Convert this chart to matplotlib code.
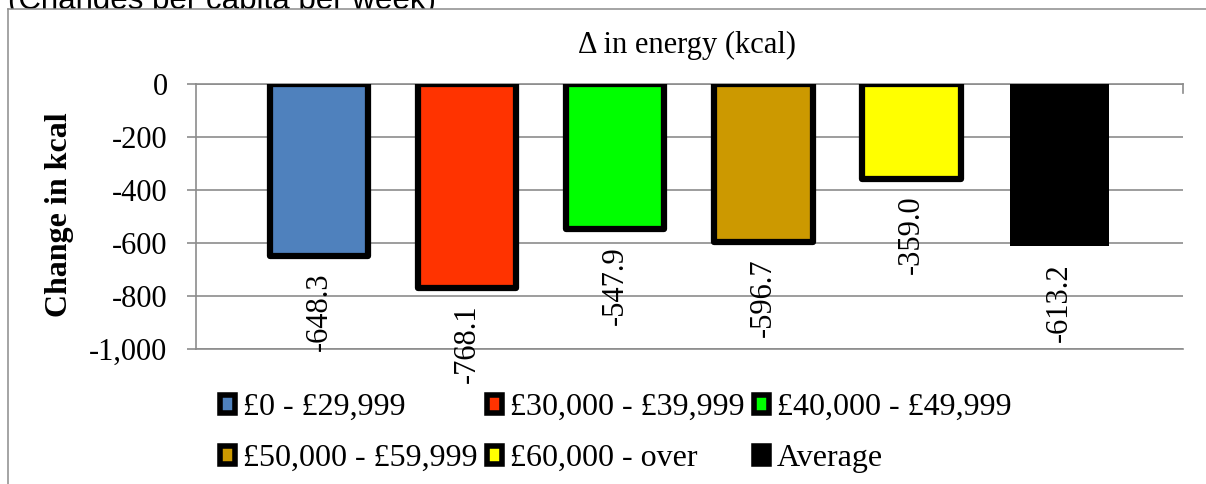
import matplotlib
matplotlib.use('Agg')
import matplotlib.pyplot as plt
from matplotlib.patches import Patch, Rectangle
from matplotlib.lines import Line2D

# data
groups = ['£0 - £29,999', '£30,000 - £39,999', '£40,000 - £49,999',
          '£50,000 - £59,999', '£60,000 - over', 'Average']
delta_kcal = [-648.3, -768.1, -547.9, -596.7, -359.0, -613.2]
colors = ['#4F81BD', '#FF3300', '#00FF00', '#CC9900', '#FFFF00', '#000000']
yticks = [0, -200, -400, -600, -800, -1000]

W, H, DPI = 1206, 484, 100
GRID = '#8c8c8c'

plt.rcParams['font.family'] = ['Liberation Serif', 'DejaVu Serif']

fig = plt.figure(figsize=(W / DPI, H / DPI), dpi=DPI)

# caption cut off at the top, partly hidden by the chart area
fig.text(8 / W, 1 - 8.5 / H, '(Changes per capita per week)',
         family=['Liberation Sans', 'DejaVu Sans'], fontsize=22.5,
         va='baseline', ha='left', zorder=-2)
fig.add_artist(Rectangle((8 / W, 0), 1, 1 - 9 / H, transform=fig.transFigure,
                         facecolor='white', edgecolor='none', zorder=-1))
fig.add_artist(Line2D([8 / W, 8 / W], [0, 1 - 9 / H], transform=fig.transFigure,
                      color=GRID, lw=1.1))
fig.add_artist(Line2D([8 / W, 1], [1 - 9 / H, 1 - 9 / H], transform=fig.transFigure,
                      color=GRID, lw=1.1))

ax = fig.add_axes([196 / W, 1 - 349 / H, 987 / W, 265 / H])
ax.set_facecolor('none')
x = list(range(len(groups)))
lws = [4.5] * 5 + [0]
bars = ax.bar(x, delta_kcal, width=0.665, color=colors, edgecolor='black',
              linewidth=lws, zorder=3)
for b in bars:
    b.set_joinstyle('round')

for i, v in enumerate(delta_kcal):
    ax.annotate(f'{v:.1f}', xy=(i, v), xytext=(0, -12), textcoords='offset points',
                rotation=90, ha='center', va='top', fontsize=22, zorder=4)

ax.set_xlim(-0.8305, 5.834)
ax.set_ylim(-1000, 0)
ax.set_yticks(yticks)
ax.set_yticklabels([f'{v:,}' for v in yticks])
ax.set_xticks([])
ax.tick_params(axis='y', length=6.5, width=1.2, color=GRID, pad=14, labelsize=22)
ax.yaxis.grid(True, color=GRID, lw=1.2, zorder=0)
ax.set_axisbelow(True)
for s in ['left', 'top', 'bottom']:
    ax.spines[s].set_color(GRID)
    ax.spines[s].set_linewidth(1.2)
ax.spines['right'].set_visible(False)
ax.plot([1, 1], [1, 1 - 9 / 265], transform=ax.transAxes, color=GRID, lw=1.2,
        clip_on=False)

fig.text(60 / W, 1 - 215 / H, 'Change in kcal', rotation=90, fontweight='bold',
         fontsize=23, ha='center', va='center')
fig.text(687 / W, 1 - 45 / H, 'Δ in energy (kcal)', fontsize=22,
         ha='center', va='center')

handles = [Patch(facecolor=c, edgecolor='black', linewidth=4, joinstyle='round')
           for c in colors]
order = [0, 3, 1, 4, 2, 5]
fig.legend([handles[i] for i in order], [groups[i] for i in order], ncol=3,
           loc='upper left', bbox_to_anchor=(220 / W, 1 - 393 / H), frameon=False,
           fontsize=23, handlelength=0.48, handleheight=0.48, handletextpad=0.25,
           columnspacing=0.28, labelspacing=0.69, borderpad=0, borderaxespad=0)

fig.savefig('out.png', dpi=DPI)
